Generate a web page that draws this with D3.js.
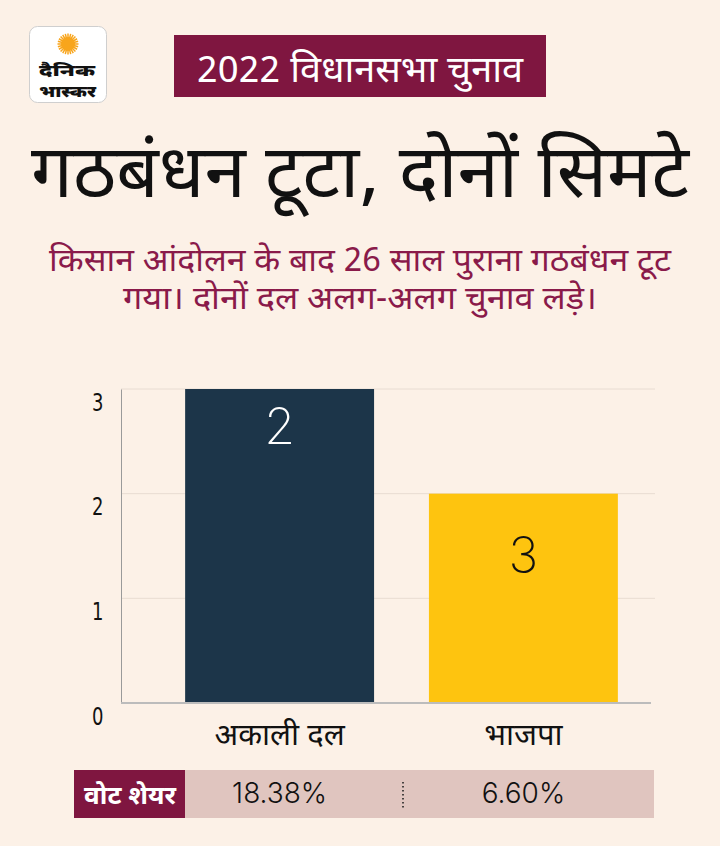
<!DOCTYPE html>
<html>
<head>
<meta charset="utf-8">
<script src="https://cdn.jsdelivr.net/npm/d3@7"></script>
<style>
  html, body { margin: 0; padding: 0; background: #fcf1e7; }
  svg { display: block; }
</style>
</head>
<body>
<svg id="canvas" width="720" height="846"></svg>
<script>
// chart data
const parties = ["अकाली दल", "भाजपा"];
const barValues = [3, 2];
const barLabels = ["2", "3"];
const voteShares = ["18.38%", "6.60%"];
const yTicks = [0, 1, 2, 3];

const maroon = "#7f1640";
const barColors = ["#1c3549", "#fec40f"];
const labelColors = ["#ffffff", "#111111"];
// the labels sit at different depths inside the two bars in the original
const labelDrop = [55, 79];
const deva = "'Noto Sans Devanagari', 'Noto Sans', 'Lohit Devanagari', sans-serif";
const thin = "Inter, Lato, sans-serif";

const svg = d3.select("#canvas");

svg.append("rect").attr("width", 720).attr("height", 846).attr("fill", "#fcf1e7");

// logo
const logo = svg.append("g");
logo.append("rect")
  .attr("x", 29.5).attr("y", 26.5).attr("width", 77).attr("height", 76).attr("rx", 8)
  .attr("fill", "#ffffff").attr("stroke", "#cfcfcf").attr("stroke-width", 1);
const rays = d3.range(24).map(i => i * 15);
logo.selectAll("line.ray").data(rays).enter().append("line")
  .attr("class", "ray")
  .attr("x1", d => 68 + 6 * Math.cos(d * Math.PI / 180))
  .attr("y1", d => 44 + 6 * Math.sin(d * Math.PI / 180))
  .attr("x2", d => 68 + 10.5 * Math.cos(d * Math.PI / 180))
  .attr("y2", d => 44 + 10.5 * Math.sin(d * Math.PI / 180))
  .attr("stroke", "#f8a51c").attr("stroke-width", 1.5);
logo.append("circle").attr("cx", 68).attr("cy", 44).attr("r", 7).attr("fill", "#f8a51c");
logo.append("text").attr("x", 39).attr("y", 76)
  .attr("textLength", 56).attr("lengthAdjust", "spacingAndGlyphs")
  .attr("font-family", deva).attr("font-weight", 900).attr("font-size", 16)
  .attr("fill", "#111").text("दैनिक");
logo.append("text").attr("x", 39).attr("y", 97)
  .attr("textLength", 57).attr("lengthAdjust", "spacingAndGlyphs")
  .attr("font-family", deva).attr("font-weight", 900).attr("font-size", 16)
  .attr("fill", "#111").text("भास्कर");

// header box
svg.append("rect").attr("x", 174).attr("y", 35).attr("width", 372).attr("height", 62).attr("fill", maroon);
svg.append("text").attr("x", 360).attr("y", 82).attr("text-anchor", "middle")
  .attr("font-family", deva).attr("font-size", 36).attr("fill", "#fff")
  .attr("textLength", 326).attr("lengthAdjust", "spacingAndGlyphs")
  .text("2022 विधानसभा चुनाव");

// title
svg.append("text").attr("x", 360).attr("y", 197).attr("text-anchor", "middle")
  .attr("font-family", deva).attr("font-size", 73).attr("fill", "#111")
  .attr("textLength", 658).attr("lengthAdjust", "spacingAndGlyphs")
  .text("गठबंधन टूटा, दोनों सिमटे");

// subtitle
const subLines = ["किसान आंदोलन के बाद 26 साल पुराना गठबंधन टूट", "गया। दोनों दल अलग-अलग चुनाव लड़े।"];
const subWidths = [622, 474];
svg.selectAll("text.sub").data(subLines).enter().append("text")
  .attr("class", "sub")
  .attr("x", 360).attr("y", (d, i) => 271 + i * 38)
  .attr("text-anchor", "middle")
  .attr("font-family", deva).attr("font-size", 32).attr("fill", "#8a1a4a")
  .attr("textLength", (d, i) => subWidths[i]).attr("lengthAdjust", "spacingAndGlyphs")
  .text(d => d);

// scales
const x = d3.scaleBand().domain(parties).range([151, 652]).paddingInner(0.225).paddingOuter(0.14);
const y = d3.scaleLinear().domain([0, 3]).range([703, 389]);

// gridlines
svg.append("g").selectAll("line").data(yTicks.filter(d => d > 0)).enter().append("line")
  .attr("x1", 121).attr("x2", 655)
  .attr("y1", d => y(d)).attr("y2", d => y(d))
  .attr("stroke", "#e8dcd2").attr("stroke-width", 1);

// y axis, labels hang just under their tick
const yAxis = svg.append("g").attr("transform", "translate(121,0)")
  .call(d3.axisLeft(y).tickValues(yTicks).tickSize(0).tickPadding(0).tickFormat(d3.format("d")));
yAxis.select(".domain").attr("stroke", "#9a9a9a");
yAxis.selectAll("text")
  .attr("x", -29).attr("dy", 0).attr("y", 21)
  .attr("text-anchor", "middle")
  .attr("font-family", "'DejaVu Sans Condensed', 'Liberation Sans Narrow', sans-serif")
  .attr("font-size", 25).attr("fill", "#111")
  .attr("transform", "scale(0.8,1)");

// bars
svg.append("g").selectAll("rect").data(parties).enter().append("rect")
  .attr("x", d => x(d)).attr("width", x.bandwidth())
  .attr("y", (d, i) => y(barValues[i]))
  .attr("height", (d, i) => y(0) - y(barValues[i]))
  .attr("fill", (d, i) => barColors[i]);

// baseline
svg.append("line").attr("x1", 121).attr("x2", 651).attr("y1", y(0)).attr("y2", y(0))
  .attr("stroke", "#bcbcbc").attr("stroke-width", 2);

// bar labels
svg.append("g").selectAll("text").data(parties).enter().append("text")
  .attr("x", d => x(d) + x.bandwidth() / 2)
  .attr("y", (d, i) => y(barValues[i]) + labelDrop[i])
  .attr("text-anchor", "middle")
  .attr("font-family", thin).attr("font-weight", 200).attr("font-size", 50)
  .attr("fill", (d, i) => labelColors[i])
  .text((d, i) => barLabels[i]);

// category labels
svg.append("g").selectAll("text").data(parties).enter().append("text")
  .attr("x", d => x(d) + x.bandwidth() / 2)
  .attr("y", 745)
  .attr("text-anchor", "middle")
  .attr("font-family", deva).attr("font-size", 31).attr("fill", "#111")
  .text(d => d);

// vote share row
svg.append("rect").attr("x", 185).attr("y", 770).attr("width", 469).attr("height", 48).attr("fill", "#e0c5bf");
svg.append("rect").attr("x", 74).attr("y", 770).attr("width", 111).attr("height", 48).attr("fill", maroon);
svg.append("text").attr("x", 130).attr("y", 804).attr("text-anchor", "middle")
  .attr("font-family", deva).attr("font-weight", 700).attr("font-size", 25).attr("fill", "#fff")
  .attr("textLength", 92).attr("lengthAdjust", "spacingAndGlyphs")
  .text("वोट शेयर");
svg.append("line").attr("x1", 403).attr("x2", 403).attr("y1", 782).attr("y2", 808)
  .attr("stroke", "#222").attr("stroke-width", 1.6).attr("stroke-dasharray", "1.6,2.4");
svg.append("g").selectAll("text").data(parties).enter().append("text")
  .attr("x", d => x(d) + x.bandwidth() / 2)
  .attr("y", 803)
  .attr("text-anchor", "middle")
  .attr("font-family", thin).attr("font-weight", 300).attr("font-size", 28)
  .attr("fill", "#111")
  .text((d, i) => voteShares[i]);
</script>
</body>
</html>
